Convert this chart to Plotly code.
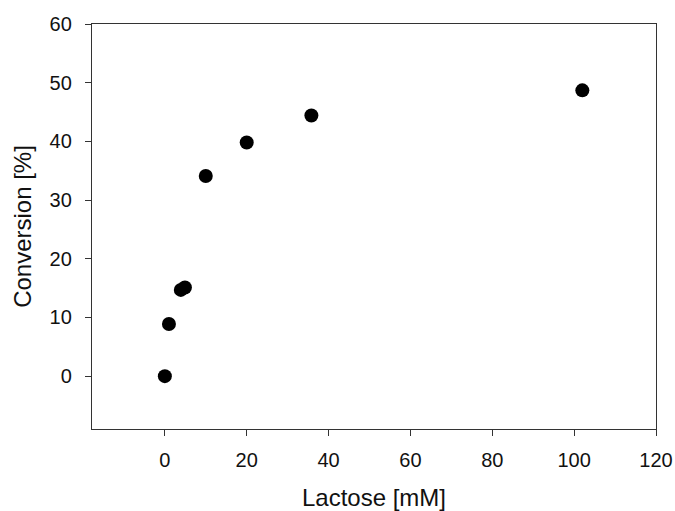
import plotly.graph_objects as go

lactose_mM = [0, 1, 3.9, 4.9, 10, 20, 35.8, 102]
conversion_pct = [0, 8.9, 14.7, 15.1, 34.1, 39.8, 44.4, 48.7]

x_ticks = [0, 20, 40, 60, 80, 100, 120]
y_ticks = [0, 10, 20, 30, 40, 50, 60]

fig = go.Figure()
fig.add_trace(go.Scatter(
    x=lactose_mM, y=conversion_pct, mode="markers",
    marker=dict(size=14, color="black"),
    showlegend=False,
))

axis_common = dict(
    showline=True, linecolor="#333333", linewidth=1.3, mirror=True,
    ticks="outside", ticklen=6, tickcolor="#333333", tickwidth=1.3,
    showgrid=False, zeroline=False, automargin=False,
    ticklabeloverflow="allow",
    tickfont=dict(family="Liberation Sans, Arial, sans-serif", size=20, color="#111111"),
)

fig.update_layout(
    width=675, height=511,
    margin=dict(l=92, r=19, t=24, b=82),
    paper_bgcolor="white", plot_bgcolor="white",
    font=dict(family="Liberation Sans, Arial, sans-serif", color="#111111"),
    xaxis=dict(
        range=[-17.8, 120], tickvals=x_ticks, ticklabelstandoff=7,
        title=dict(text="Lactose [mM]", font=dict(size=24), standoff=25),
        **axis_common,
    ),
    yaxis=dict(
        range=[-9, 60], tickvals=y_ticks, ticklabelstandoff=9,
        title=dict(text="Conversion [%]", font=dict(size=24), standoff=11),
        **axis_common,
    ),
)

fig.write_html(
    "out.html",
    config={"displayModeBar": False},
    post_script="document.body.style.margin='0';"
                "document.documentElement.style.overflow='hidden';",
)
